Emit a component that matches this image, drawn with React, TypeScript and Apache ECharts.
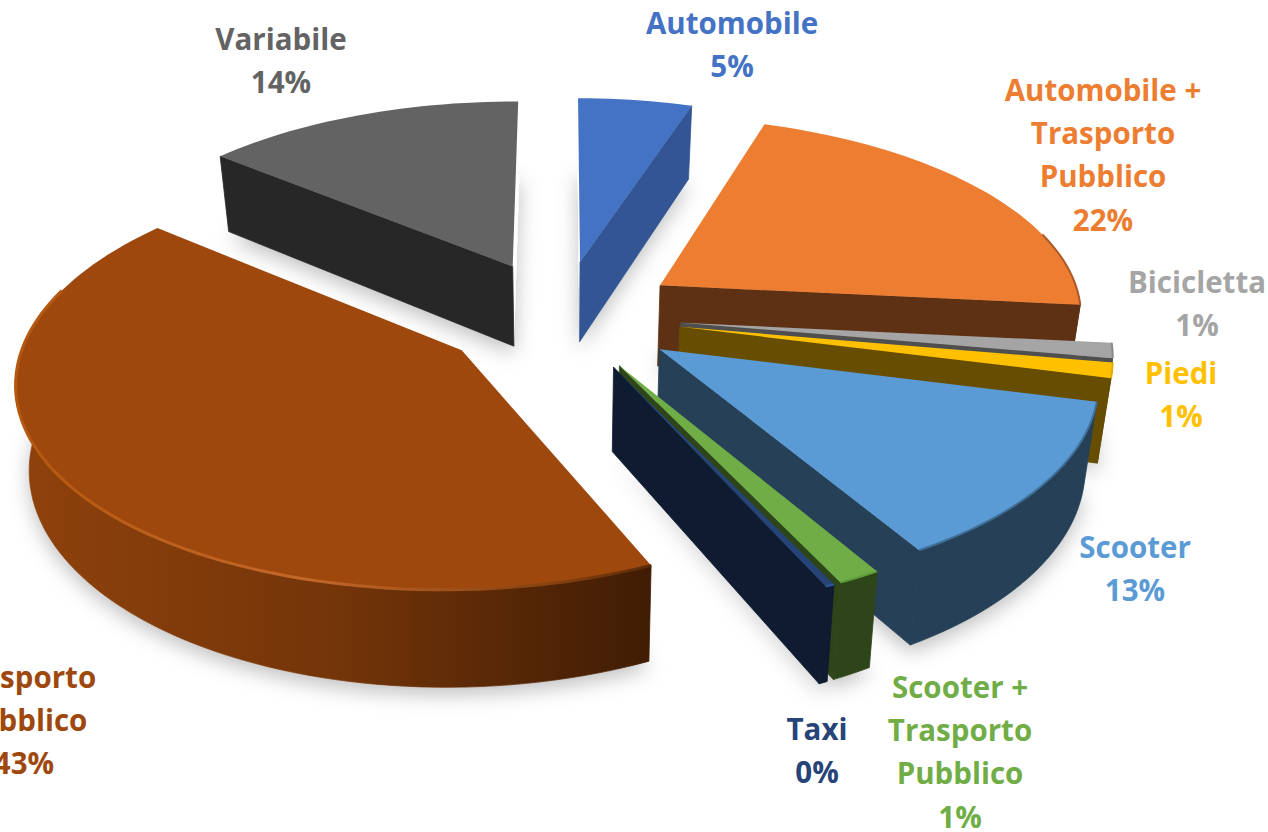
import React, { useEffect, useRef } from "react";
import * as echarts from "echarts";

const categories = ["Automobile", "Automobile +\nTrasporto\nPubblico", "Bicicletta", "Piedi", "Scooter", "Scooter +\nTrasporto\nPubblico", "Taxi", "Trasporto\nPubblico", "Variabile"];
const values = [5, 21.6, 1.2, 1.2, 12.6, 1.4, 0.3, 42.7, 14];
const topColors = ["#4472C4", "#ED7D31", "#A5A5A5", "#FFC000", "#5B9BD5", "#70AD47", "#264478", "#9E480E", "#636363"];
const wallColors = ["#335593", "#5E3114", "#4F4F4F", "#664D00", "#254057", "#2D4519", "#0E1B30", "#8F420C", "#272727"];
const bevelColors = ["#4472C4", "#A9592A", "#8A8A8A", "#E0AA00", "#3F6F97", "#5F9A3A", "#2F5597", "#BF5E1A", "#636363"];
const labelColors = ["#4472C4", "#ED7D31", "#A5A5A5", "#FFC000", "#5B9BD5", "#70AD47", "#264478", "#9E480E", "#636363"];
const labelCenterX = [732, 1103, 1197, 1181, 1135, 960, 817, 24, 281];
const labelFirstLineY = [22, 89, 281, 372, 546, 686, 728, 676, 38];
const explodeBySlice = [0.28, 0.28, 0.28, 0.28, 0.28, 0.28, 0.28, 0.288, 0.28];

const CX = 562, CY = 315, SX = 427, SY = 198, K = 0.13, TILT = 0.005, SHRINK = 0.975;
const total = values.reduce((a, b) => a + b, 0);
const project = (X: number, Y: number): [number, number] => {
  const w = 1 + K * Y + TILT * X;
  return [CX + (SX * X) / w, CY - (SY * Y) / w];
};
const drop = (p: number[]): [number, number] => {
  const rel = (CY - p[1]) / SY;
  const depth = 82 * Math.pow(1 / (1 + 0.14 * rel), 0.8);
  return [CX + (p[0] - CX) * SHRINK, p[1] + depth];
};

const sliceGeometry = (i: number) => {
  const before = values.slice(0, i).reduce((a, b) => a + b, 0);
  const a0 = (before / total) * Math.PI * 2;
  const a1 = ((before + values[i]) / total) * Math.PI * 2;
  const mid = (a0 + a1) / 2;
  const e = explodeBySlice[i];
  const ox = e * Math.sin(mid), oy = e * Math.cos(mid);
  const tip = project(ox, oy);
  const arc: [number, number][] = [];
  const front: [number, number][] = [];
  const bevel: [number, number][] = [];
  const n = Math.max(2, Math.ceil((a1 - a0) / 0.03));
  for (let j = 0; j <= n; j++) {
    const a = a0 + ((a1 - a0) * j) / n;
    const p = project(ox + Math.sin(a), oy + Math.cos(a));
    arc.push(p);
    if (Math.cos(a) < 0.05) front.push(p);
    if (Math.cos(a) < 0.3) bevel.push(p);
  }
  return { tip, arc, front, bevel, a0, a1 };
};

const renderSlice = (params: any, api: any) => {
  const i = params.dataIndex;
  api.value(0);
  const { tip, arc, front, bevel, a0, a1 } = sliceGeometry(i);
  const last = arc[arc.length - 1];
  const first = arc[0];
  const wallFill: any = i === 7
    ? new echarts.graphic.LinearGradient(15, 0, 655, 0, [
        { offset: 0, color: "#8F420C" },
        { offset: 0.5, color: "#743509" },
        { offset: 1, color: "#3F1C04" },
      ], true)
    : wallColors[i];
  const bevelStroke: any = i === 7
    ? new echarts.graphic.LinearGradient(15, 0, 655, 0, [
        { offset: 0, color: "#B5570F" },
        { offset: 0.45, color: "#C4682A" },
        { offset: 0.85, color: "#85400E" },
        { offset: 1, color: "#5A2A08" },
      ], true)
    : bevelColors[i];
  const floor = [tip, ...arc].map(drop);
  const z = i * 10 + 10;
  const wallStyle = (fill: any) => ({ fill, stroke: fill, lineWidth: 0.8, lineJoin: "round" });
  const children: any[] = [
    { type: "polygon", z2: 1, shape: { points: floor }, style: { fill: "#fff", shadowColor: "rgba(0,0,0,0.25)", shadowBlur: 20, shadowOffsetX: 0, shadowOffsetY: 7 } },
  ];
  if (Math.sin(a0) < -1e-6) children.push({ type: "polygon", z2: z, shape: { points: [tip, first, drop(first), drop(tip)] }, style: wallStyle(wallColors[i]) });
  if (Math.sin(a1) > 1e-6) children.push({ type: "polygon", z2: z + 1, shape: { points: [tip, last, drop(last), drop(tip)] }, style: wallStyle(wallColors[i]) });
  if (front.length > 1) children.push({ type: "polygon", z2: z + 2, shape: { points: [...front, ...front.map(drop).reverse()] }, style: wallStyle(wallFill) });
  children.push({ type: "polygon", z2: z + 3, shape: { points: [tip, ...arc] }, style: { fill: topColors[i] } });
  if (bevel.length > 1) children.push({ type: "polyline", z2: z + 4, shape: { points: bevel }, style: { fill: "none", stroke: bevelStroke, lineWidth: i === 7 ? 3 : 2, lineJoin: "round" } });
  return { type: "group", children };
};

const labelTexts = categories.map((c, i) => `${c}\n${Math.round(values[i])}%`);

export default function App() {
  const ref = useRef<HTMLDivElement>(null);
  useEffect(() => {
    document.body.style.margin = "0";
    const chart = echarts.init(ref.current!, undefined, { renderer: "svg" });
    chart.setOption({
      animation: false,
      backgroundColor: "#ffffff",
      series: [{ type: "custom", coordinateSystem: "none", renderItem: renderSlice, data: values, silent: true, z: 1 }],
      graphic: labelTexts.map((text, i) => ({
        type: "text",
        z: 10,
        x: labelCenterX[i],
        y: labelFirstLineY[i] - 21.5,
        style: { text, fill: labelColors[i], font: '700 29.5px "Open Sans"', lineHeight: 43.3, align: "center", verticalAlign: "top" },
      })),
    });
    return () => chart.dispose();
  }, []);
  return <div ref={ref} style={{ width: 1268, height: 832 }} />;
}
